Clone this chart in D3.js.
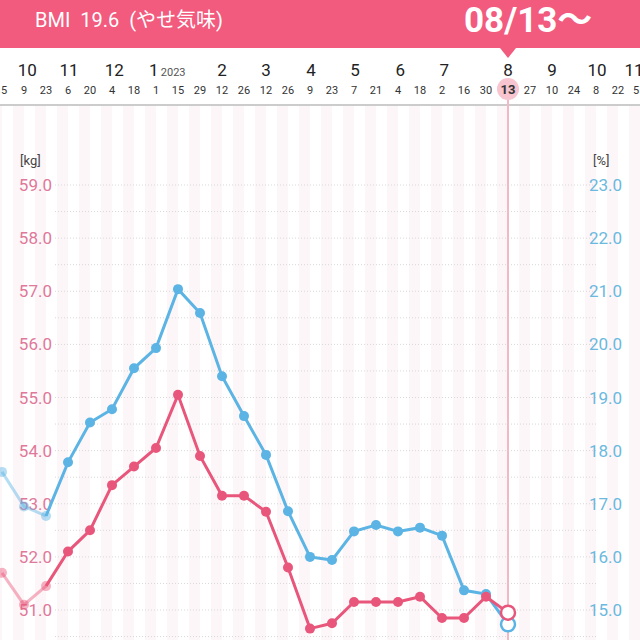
<!DOCTYPE html>
<html><head><meta charset="utf-8">
<script src="https://cdnjs.cloudflare.com/ajax/libs/d3/7.8.5/d3.min.js"></script>
<style>body{margin:0;background:#fff;font-family:Roboto,"Noto Sans CJK JP",sans-serif}</style>
</head><body>
<svg id="c" width="640" height="640"></svg>
<script>
var days = ["5","9","23","6","20","4","18","1","15","29","12","26","12","26","9","23","7","21","4","18","2","16","30","13","27","10","24","8","22","5"];
var months = ["10","11","12","1","2","3","4","5","6","7","8","9","10","11"];
var monthPos = [1.15,3.05,5.1,6.9,10,12,14.05,16.05,18.1,20.1,23,25,27.05,29.1];
var weight = [51.7,51.1,51.45,52.1,52.5,53.35,53.7,54.05,55.05,53.9,53.15,53.15,52.85,51.8,50.65,50.75,51.15,51.15,51.15,51.25,50.85,50.85,51.25,50.95];
var fat = [17.6,16.95,16.77,17.78,18.53,18.78,19.55,19.93,21.04,20.59,19.4,18.65,17.92,16.86,16.0,15.94,16.48,16.6,16.48,16.55,16.4,15.37,15.3,14.73];
var kgTicks = [59,58,57,56,55,54,53,52,51];
var pctTicks = [23,22,21,20,19,18,17,16,15];
var sel = 23;

var svg = d3.select("#c");
var pink = "#e8577b", blue = "#5bb4e4";
var x = d3.scaleLinear().domain([0, 29]).range([2, 640]);
var yL = d3.scaleLinear().domain([51, 59]).range([610, 185]);
var yR = d3.scaleLinear().domain([15, 23]).range([610, 185]);
var step = x(1) - x(0);

// background stripes
svg.append("g").selectAll("rect").data(d3.range(0, 30)).join("rect")
  .attr("x", function(i){return x(i) - step/2;}).attr("y", 105).attr("width", step/2).attr("height", 535)
  .attr("fill", "#fdf6f8");

// grid
svg.append("g").selectAll("line").data(d3.range(50.5, 59.01, 0.5)).join("line")
  .attr("x1", 55).attr("x2", 596).attr("y1", function(d){return yL(d);}).attr("y2", function(d){return yL(d);})
  .attr("stroke", "#d8d8d8").attr("stroke-dasharray", "1,2");

// axes labels
svg.append("text").attr("x", 20).attr("y", 165).attr("font-size", 13).attr("fill", "#444").text("[kg]");
svg.append("text").attr("x", 593).attr("y", 165).attr("font-size", 13).attr("fill", "#444").text("[%]");
svg.append("g").selectAll("text").data(kgTicks).join("text")
  .attr("x", 52).attr("y", function(d){return yL(d) + 6;}).attr("text-anchor", "end")
  .attr("font-size", 17).attr("fill", "#e0789a").text(function(d){return d.toFixed(1);});
svg.append("g").selectAll("text").data(pctTicks).join("text")
  .attr("x", 589).attr("y", function(d){return yR(d) + 6;})
  .attr("font-size", 17).attr("fill", "#6bb9de").text(function(d){return d.toFixed(1);});

// selected vertical line
svg.append("line").attr("x1", x(sel)).attr("x2", x(sel)).attr("y1", 100).attr("y2", 640)
  .attr("stroke", "#f2b8c6").attr("stroke-width", 2);

function series(data, y, color) {
  var g = svg.append("g");
  var line = d3.line().x(function(d, i){return x(i);}).y(function(d){return y(d);});
  g.append("path").datum(data.slice(0, 3)).attr("d", line).attr("fill", "none")
    .attr("stroke", color).attr("stroke-opacity", 0.45).attr("stroke-width", 3);
  g.append("path").datum(data.slice(2)).attr("d", d3.line().x(function(v, i){return x(i + 2);}).y(function(v){return y(v);}))
    .attr("fill", "none").attr("stroke", color).attr("stroke-width", 3);
  g.selectAll("circle").data(data.slice(0, sel)).join("circle")
    .attr("cx", function(d, i){return x(i);}).attr("cy", function(d){return y(d);}).attr("r", 5)
    .attr("fill", color).attr("fill-opacity", function(d, i){return i < 3 ? 0.45 : 1;});
  g.append("circle").attr("cx", x(sel)).attr("cy", y(data[sel])).attr("r", 7)
    .attr("fill", "#fff").attr("stroke", color).attr("stroke-width", 2.5);
}
series(fat, yR, blue);
series(weight, yL, pink);

// date band
svg.append("rect").attr("x", 0).attr("y", 50).attr("width", 640).attr("height", 55).attr("fill", "#fff");
svg.append("line").attr("x1", 0).attr("x2", 640).attr("y1", 105).attr("y2", 105).attr("stroke", "#ccc").attr("stroke-width", 2);
svg.append("line").attr("x1", x(sel)).attr("x2", x(sel)).attr("y1", 100).attr("y2", 106).attr("stroke", "#f2b8c6").attr("stroke-width", 2);
svg.append("circle").attr("cx", x(sel)).attr("cy", 89).attr("r", 11).attr("fill", "#f7c4d0");
svg.append("g").selectAll("text").data(days).join("text")
  .attr("x", function(d, i){return Math.min(Math.max(x(i), 4), 636);}).attr("y", 94).attr("text-anchor", "middle")
  .attr("font-size", function(d, i){return i == sel ? 13 : 11;}).attr("font-weight", function(d, i){return i == sel ? "bold" : "normal";})
  .attr("fill", "#333").text(function(d){return d;});
svg.append("g").selectAll("text").data(months).join("text")
  .attr("x", function(d, i){return Math.min(x(monthPos[i]), 634);}).attr("y", 76).attr("text-anchor", "middle")
  .attr("font-size", 17).attr("fill", "#222").text(function(d){return d;});
svg.append("text").attr("x", x(monthPos[3]) + 7).attr("y", 76).attr("font-size", 11).attr("fill", "#555").text("2023");

// header
svg.append("rect").attr("x", 0).attr("y", 0).attr("width", 640).attr("height", 48).attr("fill", "#f25a7e");
svg.append("path").attr("d", "M" + (x(sel) - 8) + ",48L" + x(sel) + ",58L" + (x(sel) + 8) + ",48Z").attr("fill", "#f25a7e");
svg.append("text").attr("x", 35).attr("y", 27).attr("font-size", 20).attr("fill", "#fff")
  .attr("xml:space", "preserve").style("white-space", "pre").text("BMI  19.6  (やせ気味)");
svg.append("text").attr("x", 464).attr("y", 32).attr("font-size", 35).attr("font-weight", "bold").attr("fill", "#fff").text("08/13～");
</script>
</body></html>
